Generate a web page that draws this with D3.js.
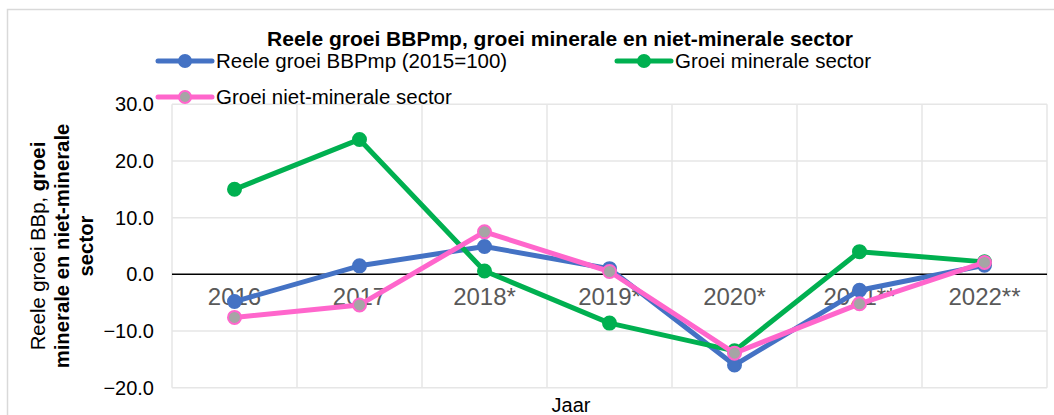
<!DOCTYPE html>
<html><head><meta charset="utf-8">
<script src="https://cdn.jsdelivr.net/npm/d3@7"></script>
<style>body{margin:0;background:#fff;font-family:"Liberation Sans",Arial,sans-serif;}</style>
</head><body><svg id="c" width="1054" height="415"></svg>
<script>
const categories = ["2016","2017","2018*","2019*","2020*","2021**","2022**"];
const bbp = [-4.8, 1.5, 4.9, 1.0, -16.0, -2.8, 1.6];
const mineraal = [15.0, 23.8, 0.6, -8.6, -13.5, 4.0, 2.2];
const nietMineraal = [-7.6, -5.4, 7.5, 0.5, -13.9, -5.2, 2.1];
const yTicks = [-20, -10, 0, 10, 20, 30];
const seriesNames = ["Reele groei BBPmp (2015=100)", "Groei minerale sector", "Groei niet-minerale sector"];

const svg = d3.select("#c");
const plot = {l:172, r:1047, t:104.3, b:387.7};
svg.append("rect").attr("x",7.5).attr("y",9.5).attr("width",1060).attr("height",420)
  .attr("fill","#fff").attr("stroke","#d9d9d9").attr("stroke-width",1.5);

const x = d3.scaleBand().domain(categories).range([plot.l, plot.r]);
const y = d3.scaleLinear().domain([-20,30]).range([plot.b, plot.t]);

// gridlines
const g = svg.append("g");
g.selectAll("line.h").data(yTicks.filter(v=>v!==0)).join("line")
  .attr("x1",plot.l).attr("x2",plot.r).attr("y1",d=>y(d)).attr("y2",d=>y(d))
  .attr("stroke","#e6e6e6").attr("stroke-width",1.5);
const bounds = categories.map(c=>x(c)).concat([x(categories[categories.length-1])+x.bandwidth()]);
g.selectAll("line.v").data(bounds).join("line")
  .attr("x1",d=>d).attr("x2",d=>d).attr("y1",plot.t).attr("y2",plot.b)
  .attr("stroke","#e6e6e6").attr("stroke-width",1.5);

// y axis labels
const yAxis = d3.axisLeft(y).tickValues(yTicks).tickFormat(d3.format(".1f")).tickSize(0).tickPadding(18);
const ya = svg.append("g").attr("transform",`translate(${plot.l},0)`).call(yAxis);
ya.select(".domain").remove();
ya.selectAll("text").attr("font-size",20).attr("fill","#000").attr("font-family","Liberation Sans, Arial");

// zero line
svg.append("line").attr("x1",plot.l).attr("x2",plot.r).attr("y1",y(0)).attr("y2",y(0))
  .attr("stroke","#000").attr("stroke-width",1.5);

// x axis labels (at zero line)
const xAxis = d3.axisBottom(x).tickSize(0).tickPadding(14);
const xa = svg.append("g").attr("transform",`translate(0,${y(0)})`).call(xAxis);
xa.select(".domain").remove();
xa.selectAll("text").attr("font-size",24).attr("fill","#595959").attr("font-family","Liberation Sans, Arial");

// series
const series = [
  {name:seriesNames[0], values:bbp, color:"#4472C4", fill:"#4472C4"},
  {name:seriesNames[1], values:mineraal, color:"#00B050", fill:"#00B050"},
  {name:seriesNames[2], values:nietMineraal, color:"#FF66CC", fill:"#A5A5A5"}
];
const cx = c => x(c) + x.bandwidth()/2;
const line = d3.line().x((d,i)=>cx(categories[i])).y(d=>y(d));
series.forEach(s=>{
  svg.append("path").datum(s.values).attr("d",line).attr("fill","none")
    .attr("stroke",s.color).attr("stroke-width",5).attr("stroke-linejoin","round");
  svg.append("g").selectAll("circle").data(s.values).join("circle")
    .attr("cx",(d,i)=>cx(categories[i])).attr("cy",d=>y(d)).attr("r",6.5)
    .attr("fill",s.fill).attr("stroke",s.color).attr("stroke-width",2);
});

// title
svg.append("text").attr("x",560).attr("y",46).attr("text-anchor","middle")
  .attr("font-size",21).attr("font-weight","bold").attr("fill","#000")
  .text("Reele groei BBPmp, groei minerale en niet-minerale sector");

// legend
const legendPos = [{x:158,y:61},{x:617,y:61},{x:158,y:97}];
series.forEach((s,i)=>{
  const p = legendPos[i];
  const lg = svg.append("g");
  lg.append("line").attr("x1",p.x).attr("x2",p.x+54).attr("y1",p.y).attr("y2",p.y)
    .attr("stroke",s.color).attr("stroke-width",5).attr("stroke-linecap","round");
  lg.append("circle").attr("cx",p.x+27).attr("cy",p.y).attr("r",6)
    .attr("fill",s.fill).attr("stroke",s.color).attr("stroke-width",2);
  lg.append("text").attr("x",p.x+58).attr("y",p.y+7).attr("font-size",20.5).attr("fill","#000").text(s.name);
});

// y axis title
const ymid = (plot.t+plot.b)/2;
const lines = [
  [{t:"Reele groei BBp, ",b:false},{t:"groei",b:true}],
  [{t:"minerale en niet-minerale",b:true}],
  [{t:"sector",b:true}]
];
lines.forEach((ln,i)=>{
  const t = svg.append("text").attr("text-anchor","middle").attr("font-size",20.3).attr("fill","#000")
    .attr("transform",`translate(${45+i*24},${ymid}) rotate(-90)`);
  ln.forEach(part=>t.append("tspan").attr("font-weight",part.b?"bold":"normal").text(part.t));
});

// x axis title
svg.append("text").attr("x",571).attr("y",412).attr("text-anchor","middle")
  .attr("font-size",20).attr("fill","#000").text("Jaar");
</script></body></html>
